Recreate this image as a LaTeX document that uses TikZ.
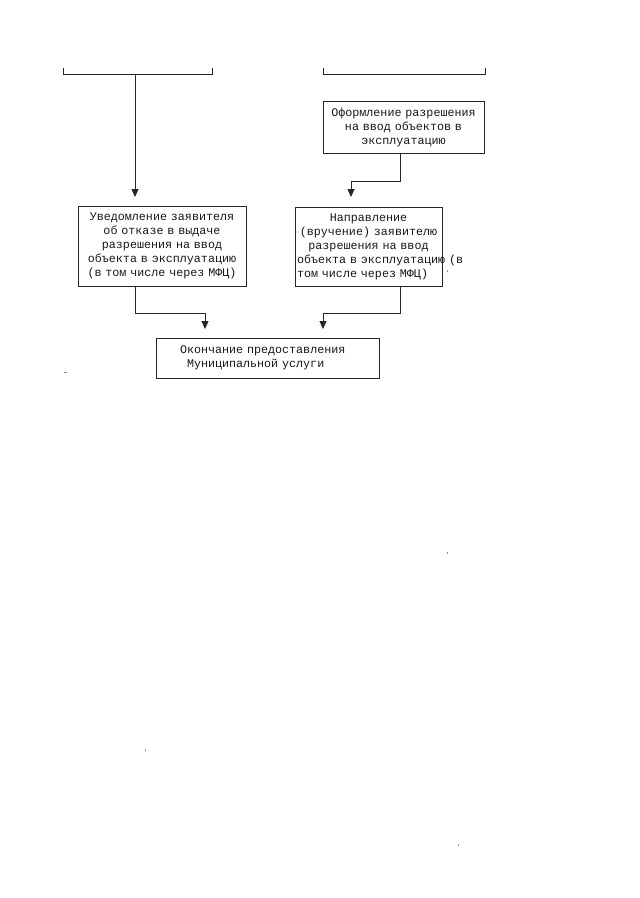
\documentclass[tikz,border=0pt]{standalone}
\usepackage{fontspec}
\setmainfont{Liberation Mono}
\usetikzlibrary{arrows.meta}
\tikzset{
  every picture/.style={x=1pt,y=-1pt},
  line/.style={draw=black!85,line width=0.8pt},
  arr/.style={line,-{Triangle[width=7pt,length=8pt]}},
  boxnode/.style={line,rectangle,inner xsep=2pt,inner ysep=0pt,align=center,
    font=\fontsize{11.7}{14}\selectfont,text=black!90},
  noise/.style={fill=black!45,draw=none}
}
\begin{document}
\begin{tikzpicture}
\useasboundingbox (0,0) rectangle (640,898);
\fill[white] (0,0) rectangle (640,898);
% partial boxes at top
\draw[line] (63,68) -- (63,74) -- (212,74) -- (212,68);
\draw[line] (323,68) -- (323,74) -- (485,74) -- (485,68);
\coordinate (lbr) at (135,74);
% boxes
\node[boxnode,text width=157pt,minimum height=52pt] (obox) at (403.5,127)
  {Оформление разрешения\\на ввод объектов в\\эксплуатацию};
\node[boxnode,text width=164pt,minimum height=80pt] (lbox) at (162,246)
  {Уведомление заявителя\\об отказе в выдаче\\разрешения на ввод\\объекта в эксплуатацию\\(в том числе через МФЦ)};
\node[boxnode,text width=143pt,minimum height=79pt] (rbox) at (368.5,246.5)
  {Направление\\(вручение) заявителю\\разрешения на ввод\\\makebox[143pt][l]{объекта в эксплуатацию (в}\\\makebox[143pt][l]{том числе через МФЦ)}};
\node[boxnode,text width=175pt,inner xsep=24pt,align=left,minimum height=40pt] (fbox) at (267.5,358)
  {Окончание предоставления\\\hspace*{7pt}Муниципальной услуги};
% arrow tips
\coordinate (t1) at (135,197);
\coordinate (t2) at (351,197);
\coordinate (t3) at (205,329);
\coordinate (t4) at (323,329);
% connectors
\draw[arr] (lbr) -- (t1);
\draw[arr] ([xshift=-3.5pt]obox.south) -- ++(0,28) -| (t2);
\draw[arr] (lbox.south -| t1) -- ++(0,27) -| (t3);
\draw[arr] ([xshift=31.5pt]rbox.south) -- ++(0,27) -| (t4);
% scanner specks
\fill[noise] (64,372) rectangle (67,373);
\fill[noise] (446.5,270) rectangle (447.5,272);
\fill[noise] (446.5,552) rectangle (447.5,554);
\fill[noise] (144.5,749) rectangle (145.5,751);
\fill[noise] (457.5,844) rectangle (458.5,846);
\end{tikzpicture}
\end{document}
